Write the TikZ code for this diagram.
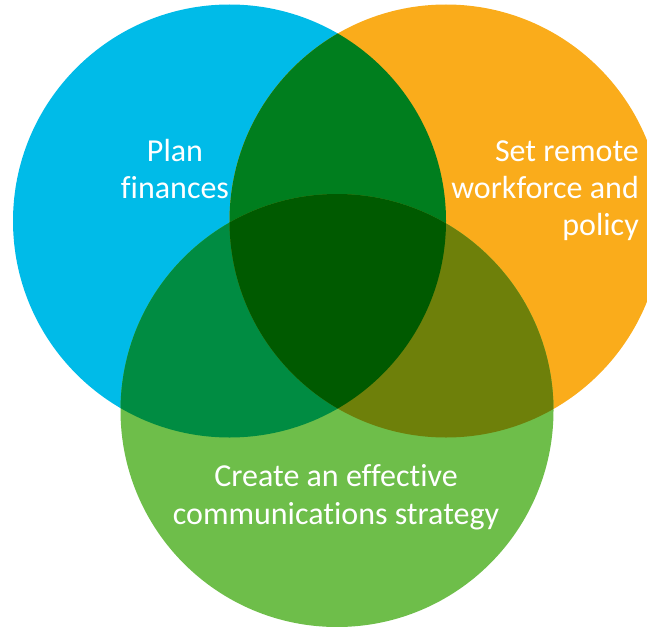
\documentclass[tikz,border=0pt]{standalone}
\usepackage{fontspec}
\setmainfont{Carlito}[Ligatures={NoCommon}]
\begin{document}
\begin{tikzpicture}[x=1pt,y=-1pt,
  label/.style={text=white,inner sep=0pt,anchor=base,font=\fontsize{32}{38}\selectfont},
  rlabel/.style={label,anchor=base east}]
\definecolor{cblue}{RGB}{0,187,232}
\definecolor{corange}{RGB}{250,172,27}
\definecolor{cgreen}{RGB}{110,190,74}
\definecolor{cbo}{RGB}{0,126,30}
\definecolor{cbg}{RGB}{0,140,66}
\definecolor{cog}{RGB}{110,128,10}
\definecolor{call}{RGB}{0,90,0}
\useasboundingbox (0,0) rectangle (647,626);
\clip (0,0) rectangle (647,626);
% circle centres and common radius
\def\rr{216.5}
\coordinate (B) at (229.5,221);
\coordinate (O) at (446,221);
\coordinate (G) at (337,410.5);
% single circles
\fill[cblue] (B) circle (\rr);
\fill[corange] (O) circle (\rr);
\fill[cgreen] (G) circle (\rr);
% pairwise overlaps
\begin{scope}
  \clip (B) circle (\rr);
  \fill[cbo] (O) circle (\rr);
  \fill[cbg] (G) circle (\rr);
\end{scope}
\begin{scope}
  \clip (O) circle (\rr);
  \fill[cog] (G) circle (\rr);
\end{scope}
% triple overlap
\begin{scope}
  \clip (B) circle (\rr);
  \clip (O) circle (\rr);
  \fill[call] (G) circle (\rr);
\end{scope}
% labels
\node[label] (plan1) at (175,161) {Plan};
\node[label] (plan2) at (175,198) {finances};
\node[rlabel] (set1) at (639,161) {Set remote};
\node[rlabel] (set2) at (639,198) {workforce and};
\node[rlabel] (set3) at (639,235) {policy};
\node[label] (com1) at (336,486) {Create an effective};
\node[label] (com2) at (336,524) {communications strategy};
\end{tikzpicture}
\end{document}
